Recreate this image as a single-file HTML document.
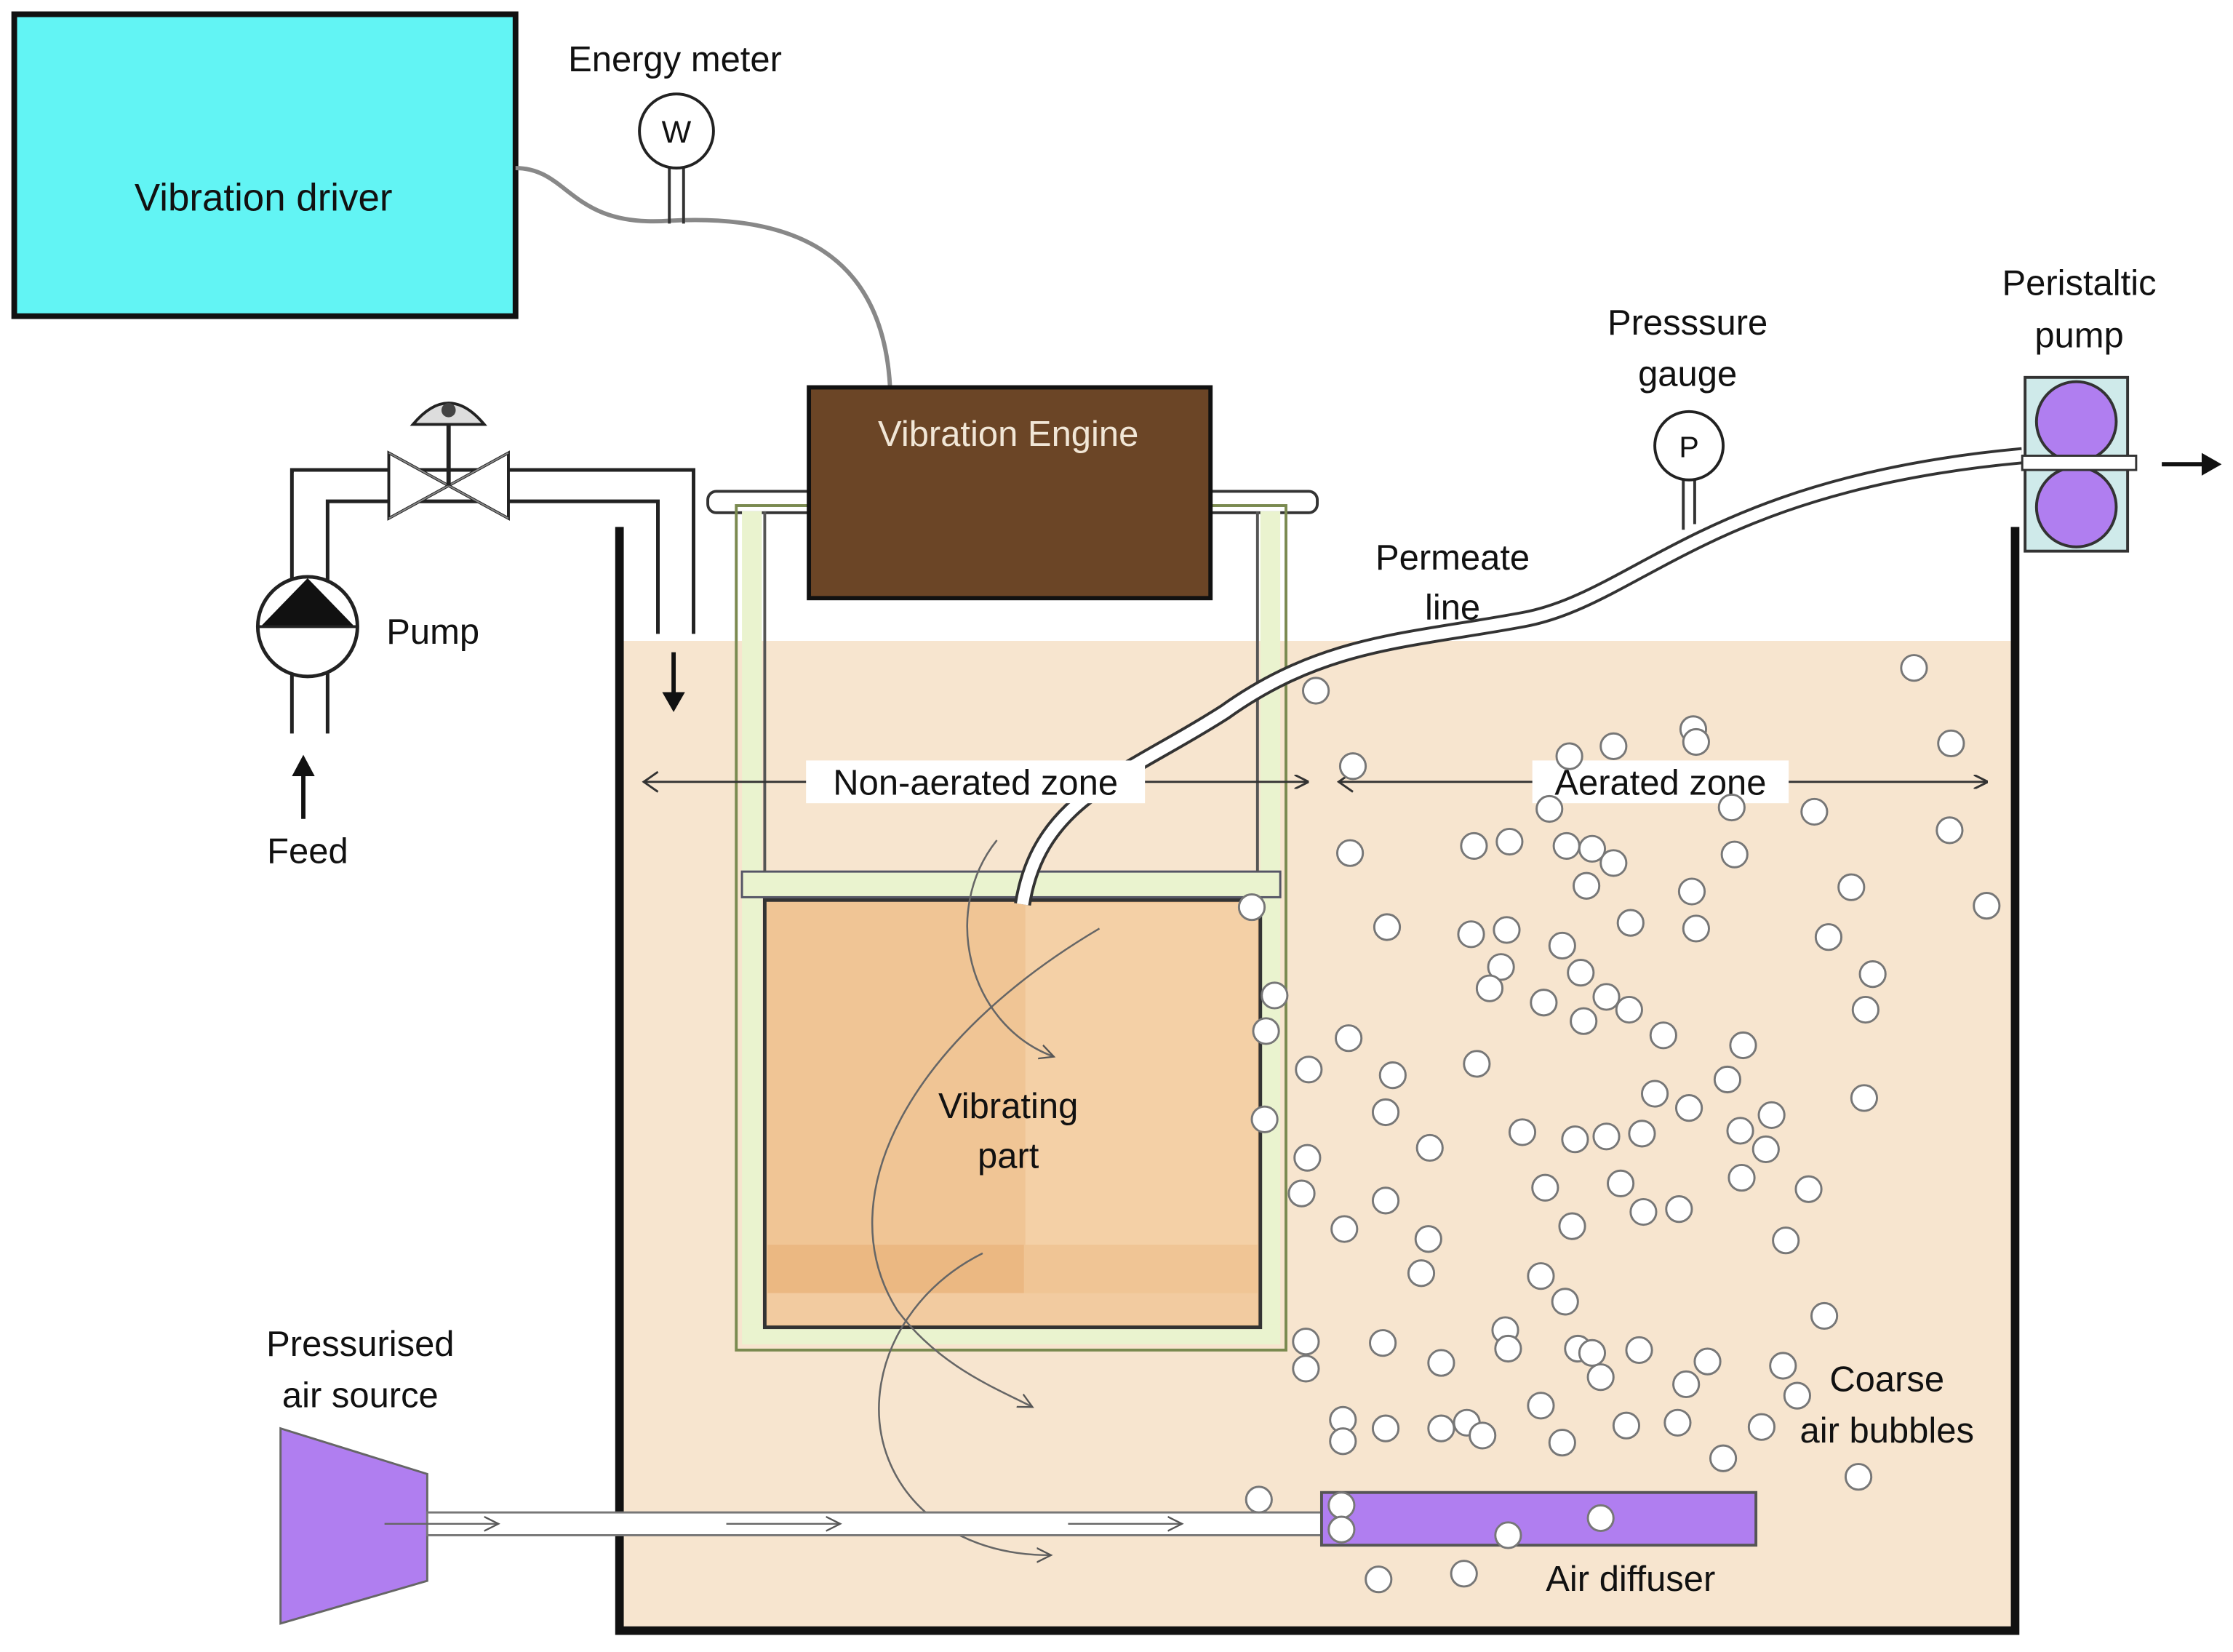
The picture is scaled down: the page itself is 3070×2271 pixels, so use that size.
<!DOCTYPE html>
<html><head><meta charset="utf-8"><style>
html,body{margin:0;padding:0;background:#fff}
svg{display:block}
text{font-family:"Liberation Sans",sans-serif;fill:#111}
</style></head><body>
<svg width="3070" height="2271" viewBox="0 0 1568 1160" preserveAspectRatio="none" xmlns="http://www.w3.org/2000/svg">
<defs>
<marker id="ah" markerWidth="10" markerHeight="10" refX="9" refY="5" orient="auto" markerUnits="userSpaceOnUse"><path d="M0,0 L10,5 L0,10" fill="none" stroke="#333" stroke-width="1.5"/></marker>
<marker id="ahs" markerWidth="12" markerHeight="12" refX="10" refY="6" orient="auto" markerUnits="userSpaceOnUse"><path d="M0,1 L10,6 L0,11" fill="none" stroke="#555" stroke-width="1.2"/></marker>
</defs>
<!-- liquid -->
<rect x="437" y="450" width="976" height="694" fill="#f7e5cf"/>
<!-- vibration driver -->
<rect x="10" y="10" width="352" height="212" fill="#62f4f4" stroke="#111" stroke-width="4"/>
<text x="185" y="148" font-size="27" text-anchor="middle">Vibration driver</text>
<!-- cable -->
<path d="M362,118 C400,118 400,160 470,155 C560,150 620,180 625,272" fill="none" stroke="#888" stroke-width="3"/>
<!-- energy meter -->
<line x1="470" y1="118" x2="470" y2="157" stroke="#333" stroke-width="2"/>
<line x1="480" y1="118" x2="480" y2="157" stroke="#333" stroke-width="2"/>
<circle cx="475" cy="92" r="26" fill="#fff" stroke="#222" stroke-width="2"/>
<text x="475" y="100" font-size="22" text-anchor="middle">W</text>
<text x="474" y="50" font-size="25" text-anchor="middle">Energy meter</text>
<!-- rod -->
<rect x="497" y="345" width="428" height="15" rx="6" fill="#fff" stroke="#333" stroke-width="2"/>
<!-- frame -->
<rect x="517" y="355" width="386" height="593" fill="none" stroke="#7a8a50" stroke-width="2"/>
<rect x="521" y="359" width="14" height="585" fill="#eaf3cf"/>
<rect x="885" y="359" width="14" height="585" fill="#eaf3cf"/>
<rect x="521" y="612" width="378" height="18" fill="#eaf3cf" stroke="#556" stroke-width="1.5"/>
<rect x="521" y="930" width="378" height="14" fill="#eaf3cf"/>
<line x1="537" y1="359" x2="537" y2="612" stroke="#555" stroke-width="2"/>
<line x1="883" y1="359" x2="883" y2="612" stroke="#555" stroke-width="2"/>
<!-- vibrating part -->
<rect x="537" y="632" width="348" height="300" fill="#f0c595" stroke="#333" stroke-width="2.5"/>
<rect x="720" y="634" width="163" height="240" fill="#f4d0a6"/>
<rect x="539" y="874" width="180" height="34" fill="#ebb882"/>
<rect x="720" y="874" width="163" height="34" fill="#f0c595"/>
<rect x="539" y="908" width="344" height="22" fill="#f2cba0"/>
<!-- engine -->
<rect x="568" y="272" width="282" height="148" fill="#6b4526" stroke="#111" stroke-width="3"/>
<text x="708" y="313" font-size="25" text-anchor="middle" style="fill:#f1e6d6">Vibration Engine</text>
<!-- tank -->
<path d="M435,370 L435,1145 L1415,1145 L1415,370" fill="none" stroke="#111" stroke-width="6"/>
<!-- feed pipe -->
<path d="M205,515 L205,330 L487,330 L487,445 M230,515 L230,352 L462,352 L462,445" fill="none" stroke="#222" stroke-width="2.5"/>
<rect x="206" y="332" width="23" height="183" fill="#fff"/>
<rect x="206" y="332" width="280" height="19" fill="#fff"/>
<rect x="463" y="332" width="23" height="113" fill="#fff"/>
<path d="M205,515 L205,330 L487,330 L487,445 M230,515 L230,352 L462,352 L462,445" fill="none" stroke="#222" stroke-width="2.5"/>
<!-- valve -->
<path d="M273,318 L315,341 L273,364 Z M357,318 L315,341 L357,364 Z" fill="#fff" stroke="#222" stroke-width="2"/>
<path d="M273,318 L357,364 M273,364 L357,318" stroke="#888" stroke-width="1"/>
<line x1="315" y1="341" x2="315" y2="298" stroke="#222" stroke-width="3"/>
<path d="M290,298 Q315,268 340,298 Z" fill="#ddd" stroke="#222" stroke-width="2"/>
<circle cx="315" cy="288" r="5" fill="#444"/>
<!-- pump -->
<circle cx="216" cy="440" r="35" fill="#fff" stroke="#222" stroke-width="2.5"/>
<path d="M183,440 L216,406 L249,440 Z" fill="#111"/>
<line x1="181" y1="440" x2="251" y2="440" stroke="#222" stroke-width="2"/>
<text x="304" y="452" font-size="25" text-anchor="middle">Pump</text>
<line x1="213" y1="575" x2="213" y2="540" stroke="#111" stroke-width="3"/>
<path d="M205,545 L213,530 L221,545 Z" fill="#111"/>
<text x="216" y="606" font-size="25" text-anchor="middle">Feed</text>
<line x1="473" y1="458" x2="473" y2="492" stroke="#111" stroke-width="3"/>
<path d="M465,486 L473,500 L481,486 Z" fill="#111"/>
<!-- permeate line -->
<path d="M718,635 C730,560 790,545 860,500 C930,450 990,450 1070,435 C1150,420 1200,340 1420,320" fill="none" stroke="#333" stroke-width="12"/>
<path d="M718,635 C730,560 790,545 860,500 C930,450 990,450 1070,435 C1150,420 1200,340 1420,320" fill="none" stroke="#fff" stroke-width="8"/>
<line x1="1182" y1="337" x2="1182" y2="372" stroke="#333" stroke-width="2"/>
<line x1="1190" y1="337" x2="1190" y2="368" stroke="#333" stroke-width="2"/>
<circle cx="1186" cy="313" r="24" fill="#fff" stroke="#222" stroke-width="2"/>
<text x="1186" y="321" font-size="21" text-anchor="middle">P</text>
<text x="1185" y="235" font-size="25" text-anchor="middle">Presssure</text>
<text x="1185" y="271" font-size="25" text-anchor="middle">gauge</text>
<text x="1020" y="400" font-size="25" text-anchor="middle">Permeate</text>
<text x="1020" y="435" font-size="25" text-anchor="middle">line</text>
<!-- peristaltic pump -->
<rect x="1422" y="265" width="72" height="122" fill="#cfeaea" stroke="#333" stroke-width="2"/>
<circle cx="1458" cy="296" r="28" fill="#b07ef0" stroke="#333" stroke-width="2"/>
<circle cx="1458" cy="356" r="28" fill="#b07ef0" stroke="#333" stroke-width="2"/>
<rect x="1420" y="320" width="80" height="10" fill="#fff" stroke="#333" stroke-width="1.5"/>
<line x1="1518" y1="326" x2="1552" y2="326" stroke="#111" stroke-width="3"/>
<path d="M1546,318 L1560,326 L1546,334 Z" fill="#111"/>
<text x="1460" y="207" font-size="25" text-anchor="middle">Peristaltic</text>
<text x="1460" y="244" font-size="25" text-anchor="middle">pump</text>
<!-- zone arrows -->
<line x1="452" y1="549" x2="918" y2="549" stroke="#333" stroke-width="1.5" marker-end="url(#ah)"/>
<path d="M462,542 L452,549 L462,556" fill="none" stroke="#333" stroke-width="1.5"/>
<line x1="940" y1="549" x2="1395" y2="549" stroke="#333" stroke-width="1.5" marker-end="url(#ah)"/>
<path d="M950,542 L940,549 L950,556" fill="none" stroke="#333" stroke-width="1.5"/>
<rect x="566" y="534" width="238" height="30" fill="#fff"/>
<text x="685" y="558" font-size="25" text-anchor="middle">Non-aerated zone</text>
<rect x="1076" y="534" width="180" height="30" fill="#fff"/>
<text x="1166" y="558" font-size="25" text-anchor="middle">Aerated zone</text>
<!-- flow curves -->
<g fill="none" stroke="#666" stroke-width="1.3">
<path d="M700,590 C660,640 680,720 740,742" marker-end="url(#ahs)"/>
<path d="M772,652 C640,730 580,840 630,920 C660,960 700,975 725,988" marker-end="url(#ahs)"/>
<path d="M690,880 C610,920 590,1020 660,1070 C690,1090 720,1092 738,1092" marker-end="url(#ahs)"/>
</g>
<text x="708" y="785" font-size="25" text-anchor="middle">Vibrating</text>
<text x="708" y="820" font-size="25" text-anchor="middle">part</text>
<!-- air source -->
<path d="M197,1003 L300,1035 L300,1110 L197,1140 Z" fill="#b07ef0" stroke="#666" stroke-width="1.5"/>
<text x="253" y="952" font-size="25" text-anchor="middle">Pressurised</text>
<text x="253" y="988" font-size="25" text-anchor="middle">air source</text>
<rect x="300" y="1062" width="630" height="16" fill="#fff" stroke="#777" stroke-width="1.5"/>
<g stroke="#666" stroke-width="1.2" fill="none">
<line x1="270" y1="1070" x2="350" y2="1070" marker-end="url(#ahs)"/>
<line x1="510" y1="1070" x2="590" y2="1070" marker-end="url(#ahs)"/>
<line x1="750" y1="1070" x2="830" y2="1070" marker-end="url(#ahs)"/>
</g>
<rect x="928" y="1048" width="305" height="37" fill="#b07ef0" stroke="#555" stroke-width="2"/>
<text x="1145" y="1117" font-size="25" text-anchor="middle">Air diffuser</text>
<text x="1325" y="977" font-size="25" text-anchor="middle">Coarse</text>
<text x="1325" y="1013" font-size="25" text-anchor="middle">air bubbles</text>
<!-- bubbles -->
<g fill="#fff" stroke="#777" stroke-width="1.5">
<circle cx="924" cy="485" r="9"/><circle cx="1344" cy="469" r="9"/><circle cx="1189" cy="512" r="9"/><circle cx="1133" cy="524" r="9"/><circle cx="1102" cy="531" r="9"/><circle cx="1191" cy="521" r="9"/><circle cx="1370" cy="522" r="9"/><circle cx="950" cy="538" r="9"/><circle cx="1088" cy="568" r="9"/><circle cx="1216" cy="567" r="9"/><circle cx="1274" cy="570" r="9"/><circle cx="1369" cy="583" r="9"/><circle cx="948" cy="599" r="9"/><circle cx="1035" cy="594" r="9"/><circle cx="1060" cy="591" r="9"/><circle cx="1100" cy="594" r="9"/><circle cx="1118" cy="596" r="9"/><circle cx="1133" cy="606" r="9"/><circle cx="1218" cy="600" r="9"/><circle cx="1114" cy="622" r="9"/><circle cx="1188" cy="626" r="9"/><circle cx="1300" cy="623" r="9"/><circle cx="1395" cy="636" r="9"/><circle cx="879" cy="637" r="9"/><circle cx="974" cy="651" r="9"/><circle cx="1033" cy="656" r="9"/><circle cx="1058" cy="653" r="9"/><circle cx="1145" cy="648" r="9"/><circle cx="1191" cy="652" r="9"/><circle cx="1284" cy="658" r="9"/><circle cx="1097" cy="664" r="9"/><circle cx="1054" cy="679" r="9"/><circle cx="1110" cy="683" r="9"/><circle cx="1315" cy="684" r="9"/><circle cx="1046" cy="694" r="9"/><circle cx="895" cy="699" r="9"/><circle cx="1084" cy="704" r="9"/><circle cx="1128" cy="700" r="9"/><circle cx="1144" cy="709" r="9"/><circle cx="1112" cy="717" r="9"/><circle cx="1310" cy="709" r="9"/><circle cx="889" cy="724" r="9"/><circle cx="947" cy="729" r="9"/><circle cx="1168" cy="727" r="9"/><circle cx="1224" cy="734" r="9"/><circle cx="1037" cy="747" r="9"/><circle cx="919" cy="751" r="9"/><circle cx="978" cy="755" r="9"/><circle cx="1213" cy="758" r="9"/><circle cx="1162" cy="768" r="9"/><circle cx="1186" cy="778" r="9"/><circle cx="1309" cy="771" r="9"/><circle cx="973" cy="781" r="9"/><circle cx="888" cy="786" r="9"/><circle cx="1244" cy="783" r="9"/><circle cx="1069" cy="795" r="9"/><circle cx="1106" cy="800" r="9"/><circle cx="1128" cy="798" r="9"/><circle cx="1153" cy="796" r="9"/><circle cx="1222" cy="794" r="9"/><circle cx="1004" cy="806" r="9"/><circle cx="1240" cy="807" r="9"/><circle cx="918" cy="813" r="9"/><circle cx="1223" cy="827" r="9"/><circle cx="1085" cy="834" r="9"/><circle cx="1138" cy="831" r="9"/><circle cx="1270" cy="835" r="9"/><circle cx="914" cy="838" r="9"/><circle cx="973" cy="843" r="9"/><circle cx="1154" cy="851" r="9"/><circle cx="1179" cy="849" r="9"/><circle cx="944" cy="863" r="9"/><circle cx="1104" cy="861" r="9"/><circle cx="1003" cy="870" r="9"/><circle cx="1254" cy="871" r="9"/><circle cx="998" cy="894" r="9"/><circle cx="1082" cy="896" r="9"/><circle cx="1099" cy="914" r="9"/><circle cx="1281" cy="924" r="9"/><circle cx="1057" cy="934" r="9"/><circle cx="917" cy="942" r="9"/><circle cx="971" cy="943" r="9"/><circle cx="1059" cy="947" r="9"/><circle cx="1108" cy="947" r="9"/><circle cx="1118" cy="950" r="9"/><circle cx="1151" cy="948" r="9"/><circle cx="1012" cy="957" r="9"/><circle cx="1199" cy="956" r="9"/><circle cx="917" cy="961" r="9"/><circle cx="1124" cy="967" r="9"/><circle cx="1252" cy="959" r="9"/><circle cx="1184" cy="972" r="9"/><circle cx="1262" cy="980" r="9"/><circle cx="1082" cy="987" r="9"/><circle cx="943" cy="997" r="9"/><circle cx="973" cy="1003" r="9"/><circle cx="1012" cy="1003" r="9"/><circle cx="1030" cy="999" r="9"/><circle cx="1041" cy="1008" r="9"/><circle cx="1142" cy="1001" r="9"/><circle cx="1178" cy="999" r="9"/><circle cx="1237" cy="1002" r="9"/><circle cx="943" cy="1012" r="9"/><circle cx="1097" cy="1013" r="9"/><circle cx="1210" cy="1024" r="9"/><circle cx="1305" cy="1037" r="9"/><circle cx="884" cy="1053" r="9"/><circle cx="942" cy="1057" r="9"/><circle cx="1124" cy="1066" r="9"/><circle cx="942" cy="1074" r="9"/><circle cx="1059" cy="1078" r="9"/><circle cx="968" cy="1109" r="9"/><circle cx="1028" cy="1105" r="9"/>
</g>
</svg>
</body></html>
